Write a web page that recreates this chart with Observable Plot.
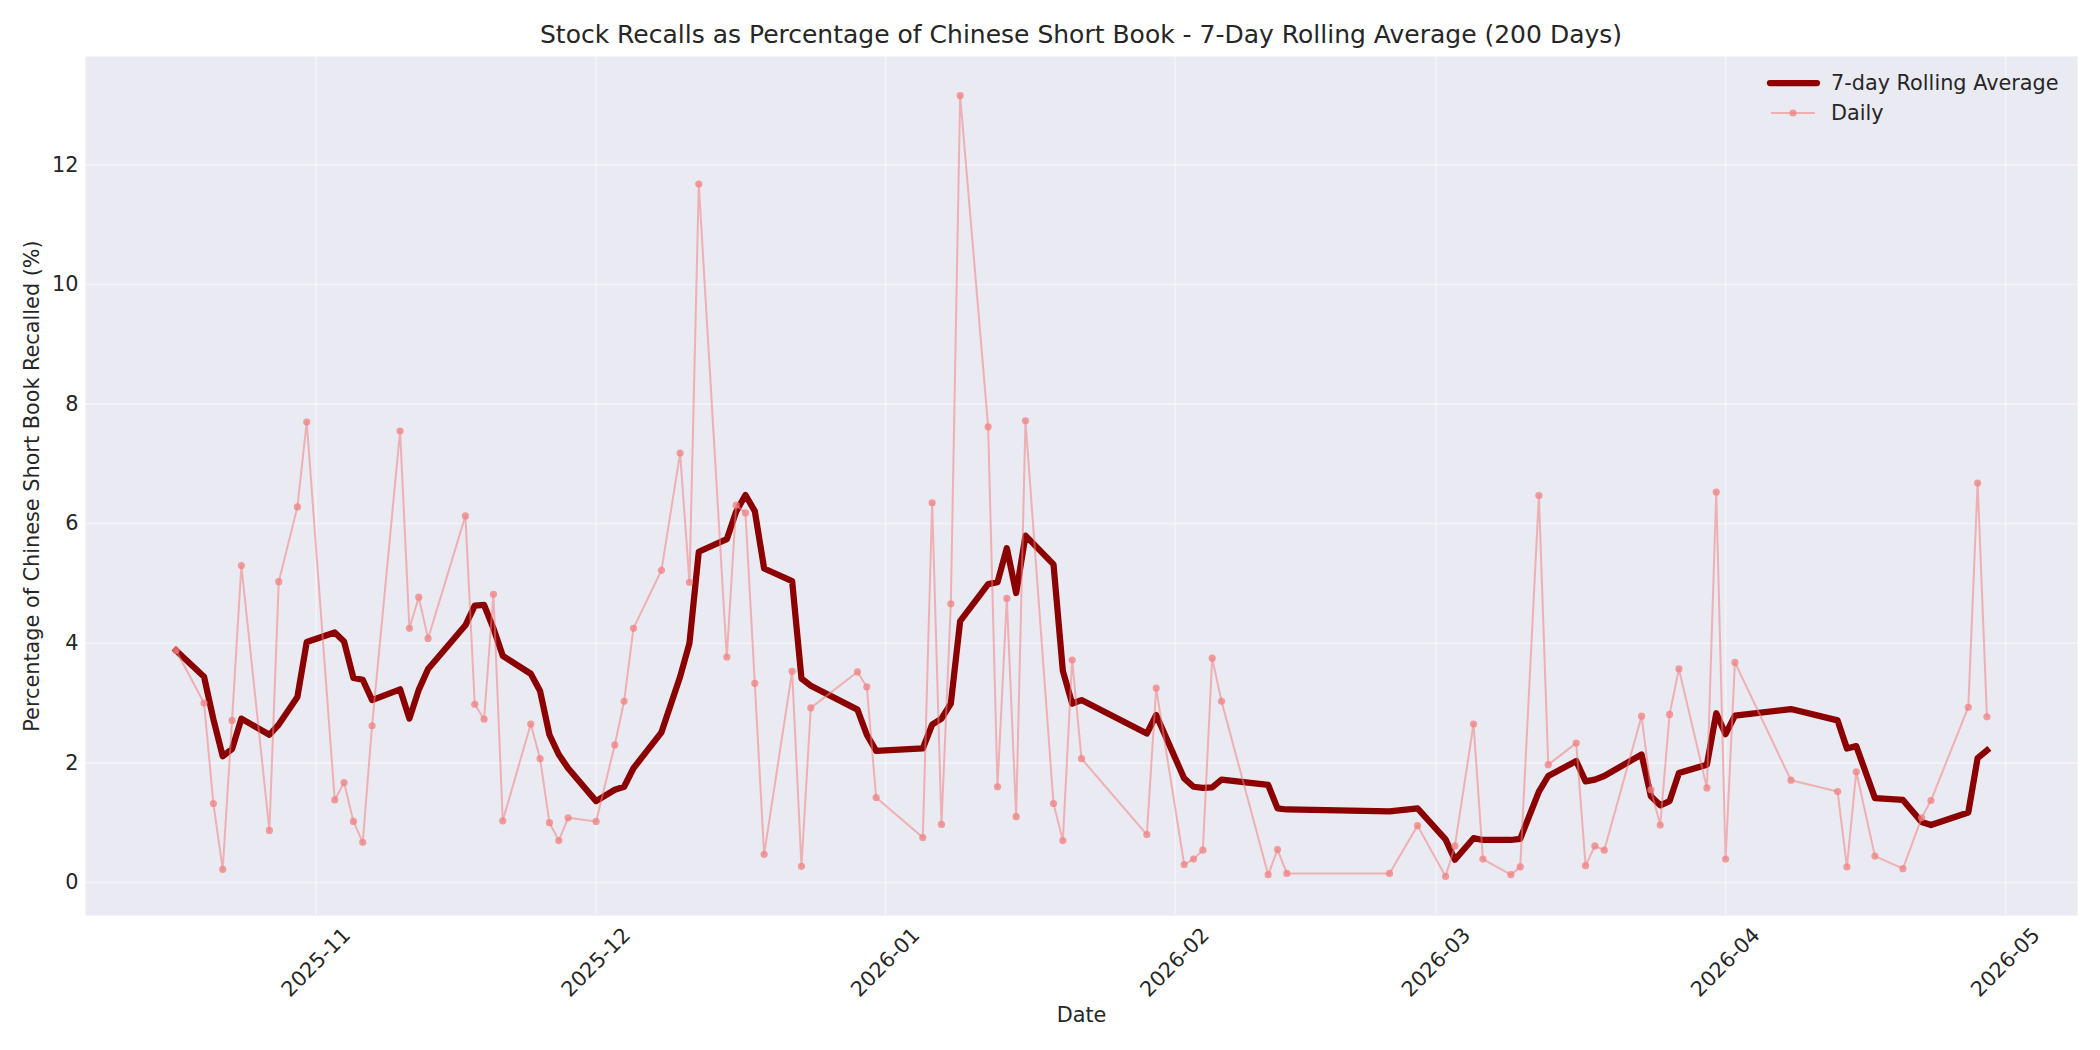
<!DOCTYPE html>
<html>
<head>
<meta charset="utf-8">
<script src="https://cdn.jsdelivr.net/npm/d3@7"></script>
<script src="https://cdn.jsdelivr.net/npm/@observablehq/plot@0.6"></script>
<style>
  html, body { margin: 0; padding: 0; background: white; overflow: hidden; }
  #wrap { position: relative; width: 2100px; height: 1050px; font-family: "DejaVu Sans", sans-serif; color: #262626; }
  #title { width: 1992px; margin-left: 85px; text-align: center; font-size: 25px; line-height: 30px; box-sizing: border-box; position: relative; top: 20px; height: 30px; margin-bottom: 20px; }
  #legend { position: absolute; left: 1755px; top: 62px; }
</style>
</head>
<body>
<div id="wrap">
  <div id="title">Stock Recalls as Percentage of Chinese Short Book - 7-Day Rolling Average (200 Days)</div>
  <div id="chart"></div>
  <svg id="legend" width="330" height="75" font-family="DejaVu Sans" font-size="20.8" fill="#262626">
    <line x1="15" x2="62" y1="21" y2="21" stroke="#8B0000" stroke-width="6.25" stroke-linecap="round"></line>
    <text x="76" y="21" dominant-baseline="central">7-day Rolling Average</text>
    <line x1="16" x2="60" y1="51" y2="51" stroke="#F08080" stroke-opacity="0.55" stroke-width="2"></line>
    <circle cx="38" cy="51" r="3.6" fill="#F08080" fill-opacity="0.75"></circle>
    <text x="76" y="51" dominant-baseline="central">Daily</text>
  </svg>
</div>
<script>
const dates = [
  "2025-10-17","2025-10-20","2025-10-21","2025-10-22","2025-10-23","2025-10-24","2025-10-27","2025-10-28","2025-10-30","2025-10-31",
  "2025-11-03","2025-11-04","2025-11-05","2025-11-06","2025-11-07","2025-11-10","2025-11-11","2025-11-12","2025-11-13",
  "2025-11-17","2025-11-18","2025-11-19","2025-11-20","2025-11-21","2025-11-24","2025-11-25","2025-11-26","2025-11-27","2025-11-28",
  "2025-12-01","2025-12-03","2025-12-04","2025-12-05","2025-12-08","2025-12-10","2025-12-11","2025-12-12",
  "2025-12-15","2025-12-16","2025-12-17","2025-12-18","2025-12-19","2025-12-22","2025-12-23","2025-12-24","2025-12-29","2025-12-30","2025-12-31",
  "2026-01-05","2026-01-06","2026-01-07","2026-01-08","2026-01-09","2026-01-12","2026-01-13","2026-01-14","2026-01-15","2026-01-16",
  "2026-01-19","2026-01-20","2026-01-21","2026-01-22","2026-01-29","2026-01-30",
  "2026-02-02","2026-02-03","2026-02-04","2026-02-05","2026-02-06","2026-02-11","2026-02-12","2026-02-13","2026-02-24","2026-02-27",
  "2026-03-02","2026-03-03","2026-03-05","2026-03-06","2026-03-09","2026-03-10","2026-03-12","2026-03-13","2026-03-16","2026-03-17",
  "2026-03-18","2026-03-19","2026-03-23","2026-03-24","2026-03-25","2026-03-26","2026-03-27","2026-03-30","2026-03-31",
  "2026-04-01","2026-04-02","2026-04-08","2026-04-13","2026-04-14","2026-04-15","2026-04-17","2026-04-20","2026-04-22","2026-04-23",
  "2026-04-27","2026-04-28","2026-04-29"
];
const dailyValues = [
  3.88,3.00,1.32,0.22,2.71,5.30,0.87,5.03,6.28,7.70,
  1.38,1.67,1.02,0.67,2.62,7.55,4.25,4.77,4.08,
  6.13,2.98,2.73,4.82,1.03,2.65,2.07,1.00,0.70,1.08,
  1.02,2.30,3.03,4.25,5.22,7.18,5.02,11.68,
  3.77,6.31,6.18,3.33,0.47,3.53,0.27,2.92,3.52,3.27,1.42,
  0.75,6.35,0.97,4.66,13.16,7.62,1.60,4.75,1.10,7.72,
  1.32,0.70,3.72,2.07,0.80,3.25,
  0.30,0.39,0.54,3.75,3.03,0.13,0.55,0.15,0.15,0.95,
  0.10,0.61,2.65,0.39,0.13,0.26,6.47,1.97,2.33,0.28,
  0.61,0.54,2.78,1.55,0.96,2.81,3.57,1.58,6.53,
  0.39,3.68,1.71,1.52,0.26,1.85,0.44,0.23,1.08,1.37,
  2.93,6.68,2.77
];
const rollingValues = [
  3.88,3.44,2.73,2.11,2.23,2.74,2.47,2.64,3.10,4.02,
  4.18,4.03,3.42,3.39,3.05,3.23,2.74,3.22,3.57,
  4.30,4.63,4.64,4.25,3.79,3.49,3.20,2.47,2.14,1.91,
  1.36,1.55,1.60,1.91,2.51,3.44,4.00,5.53,
  5.74,6.20,6.48,6.21,5.25,5.04,3.41,3.29,2.89,2.47,2.20,
  2.24,2.64,2.74,2.99,4.37,4.99,5.02,5.59,4.84,5.80,
  5.32,3.54,2.99,3.05,2.49,2.80,
  1.74,1.60,1.58,1.59,1.72,1.63,1.24,1.22,1.19,1.24,
  0.72,0.38,0.74,0.71,0.71,0.73,1.52,1.78,2.03,1.69,
  1.72,1.78,2.14,1.44,1.29,1.36,1.83,1.97,2.83,
  2.48,2.79,2.90,2.71,2.24,2.28,1.41,1.38,1.01,0.96,
  1.17,2.08,2.21
];
const monthTicks = ["2025-11-01","2025-12-01","2026-01-01","2026-02-01","2026-03-01","2026-04-01","2026-05-01"];
const yTicks = [0, 2, 4, 6, 8, 10, 12];

const rows = dates.map((d, i) => ({date: new Date(d), daily: dailyValues[i], rolling: rollingValues[i]}));
const xTicks = monthTicks.map(d => new Date(d));

const t0 = rows[0].date.getTime(), t1 = rows[rows.length - 1].date.getTime();
const tPad = (t1 - t0) * 0.05;
const allV = dailyValues.concat(rollingValues);
const vMin = Math.min(...allV), vMax = Math.max(...allV);
const vPad = (vMax - vMin) * 0.05;

const textColor = "#262626";

const chart = Plot.plot({
  width: 2100,
  height: 1000,
  marginTop: 6,
  marginBottom: 135,
  marginLeft: 85,
  marginRight: 23,
  x: {type: "utc", domain: [new Date(t0 - tPad), new Date(t1 + tPad)]},
  y: {domain: [vMin - vPad, vMax + vPad]},
  style: {fontFamily: "DejaVu Sans", fontSize: "20.8px", color: textColor, background: "white", overflow: "visible"},
  marks: [
    Plot.frame({fill: "#EAEAF2", stroke: null}),
    Plot.gridX({ticks: xTicks, stroke: "white", strokeOpacity: 0.45, strokeWidth: 1.6}),
    Plot.gridY({ticks: yTicks, stroke: "white", strokeOpacity: 0.45, strokeWidth: 1.6}),
    Plot.axisY({ticks: yTicks, tickSize: 0, tickPadding: 7, label: null, fill: textColor}),
    Plot.axisX({ticks: xTicks, tickFormat: d3.utcFormat("%Y-%m"), tickSize: 0, tickRotate: -45,
                textAnchor: "middle", lineAnchor: "middle", tickPadding: 47, label: null, fill: textColor}),
    Plot.line(rows, {x: "date", y: "rolling", stroke: "#8B0000", strokeWidth: 6.25, strokeLinejoin: "round", strokeLinecap: "square"}),
    Plot.line(rows, {x: "date", y: "daily", stroke: "#F08080", strokeOpacity: 0.55, strokeWidth: 2}),
    Plot.dot(rows, {x: "date", y: "daily", r: 3.6, fill: "#F08080", fillOpacity: 0.75, stroke: null}),
    Plot.text(["Date"], {frameAnchor: "bottom", dy: 100, lineAnchor: "middle", fill: textColor, fontSize: 20.8}),
    Plot.text(["Percentage of Chinese Short Book Recalled (%)"], {frameAnchor: "left", dx: -53, rotate: -90,
                textAnchor: "middle", lineAnchor: "middle", fill: textColor, fontSize: 20.8})
  ]
});
document.getElementById("chart").appendChild(chart);
</script>
</body>
</html>
